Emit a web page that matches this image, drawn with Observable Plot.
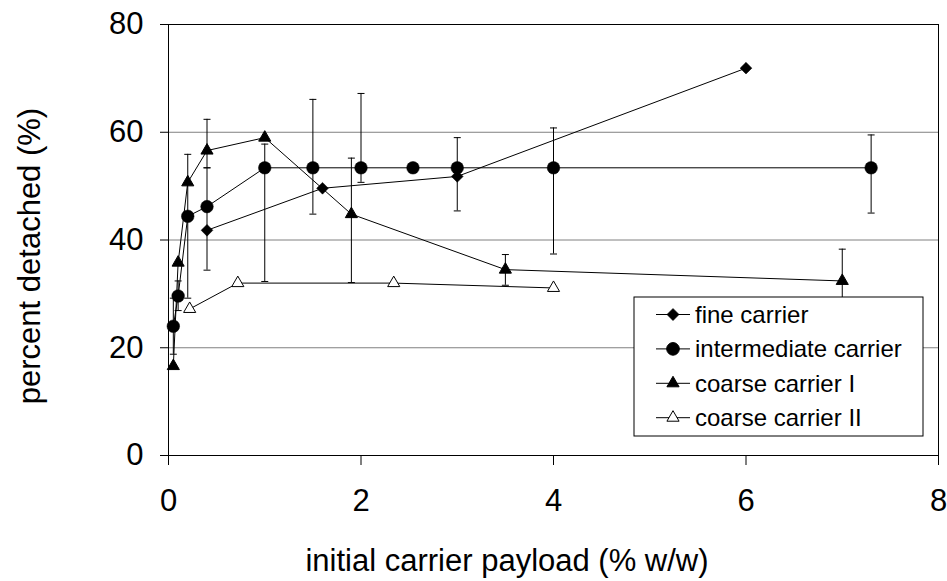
<!DOCTYPE html>
<html>
<head>
<meta charset="utf-8">
<script src="https://cdn.jsdelivr.net/npm/d3@7"></script>
<script src="https://cdn.jsdelivr.net/npm/@observablehq/plot@0.6"></script>
<style>
  html, body { margin: 0; padding: 0; background: #fff; }
  #chart svg { display: block; }
</style>
</head>
<body>
<div id="chart"></div>
<script>
// ---- data ----
const seriesNames = ["fine carrier", "intermediate carrier", "coarse carrier I", "coarse carrier II"];

const fineX = [0.4, 1.6, 3.0, 6.0];
const fineY = [41.8, 49.6, 51.8, 71.9];

const interX = [0.05, 0.1, 0.2, 0.4, 1.0, 1.5, 2.0, 2.54, 3.0, 4.0, 7.3];
const interY = [24.0, 29.6, 44.4, 46.2, 53.4, 53.4, 53.4, 53.4, 53.4, 53.4, 53.4];

const coarse1X = [0.05, 0.1, 0.2, 0.4, 1.0, 1.9, 3.5, 7.0];
const coarse1Y = [16.6, 35.8, 50.7, 56.6, 59.0, 44.8, 34.5, 32.4];

const coarse2X = [0.22, 0.72, 2.34, 4.0];
const coarse2Y = [27.2, 32.0, 32.0, 31.1];

// error bars (x, low, high)
const errX    = [0.05, 0.1, 0.2, 0.4, 0.4, 1.0, 1.5, 1.9, 2.0, 3.0, 3.5, 4.0, 7.0, 7.3];
const errLow  = [18.8, 26.9, 29.2, 34.4, 53.4, 32.3, 44.8, 32.1, 50.7, 45.4, 31.6, 37.4, 26.5, 45.0];
const errHigh = [29.2, 32.4, 55.9, 53.4, 62.4, 57.8, 66.1, 55.2, 67.2, 59.0, 37.3, 60.8, 38.3, 59.5];

const xTicks = [0, 2, 4, 6, 8];
const yTicks = [0, 20, 40, 60, 80];
const gridTicks = [20, 40, 60];

const xLabel = "initial carrier payload (% w/w)";
const yLabel = "percent detached (%)";

// ---- tables built from the arrays ----
const rows = (xs, ys, s) => xs.map((x, i) => ({x, y: ys[i], s}));
const fine = rows(fineX, fineY, seriesNames[0]);
const inter = rows(interX, interY, seriesNames[1]);
const coarse1 = rows(coarse1X, coarse1Y, seriesNames[2]);
const coarse2 = rows(coarse2X, coarse2Y, seriesNames[3]);
const errs = errX.map((x, i) => ({x, lo: errLow[i], hi: errHigh[i]}));
const caps = errs.flatMap(d => [{x: d.x, y: d.lo}, {x: d.x, y: d.hi}]);

const capSymbol = {
  draw(context) { context.moveTo(-3.5, 0); context.lineTo(3.5, 0); }
};

const FONT = "'Liberation Sans', Arial, Helvetica, sans-serif";

// legend drawn inside the plot frame
const legendSymbols = [d3.symbolDiamond2, d3.symbolCircle, d3.symbolTriangle, d3.symbolTriangle];
const legendSizes = [88, 125, 64, 64];
const legendFills = ["black", "black", "black", "white"];

function legendMark(index, scales, values, dimensions) {
  const {width, height, marginRight, marginBottom} = dimensions;
  const boxW = 289, boxH = 139;
  const x0 = width - marginRight - 15 - boxW;
  const y0 = height - marginBottom - 19 - boxH;
  const g = d3.create("svg:g");
  g.append("rect")
    .attr("x", x0).attr("y", y0).attr("width", boxW).attr("height", boxH)
    .attr("fill", "white").attr("stroke", "black").attr("stroke-width", 1);
  seriesNames.forEach((name, i) => {
    const cy = y0 + 17.5 + i * 34.4;
    g.append("line")
      .attr("x1", x0 + 22).attr("x2", x0 + 56).attr("y1", cy).attr("y2", cy)
      .attr("stroke", "black").attr("stroke-width", 1);
    g.append("path")
      .attr("d", d3.symbol(legendSymbols[i], legendSizes[i])())
      .attr("transform", `translate(${x0 + 39},${cy})`)
      .attr("fill", legendFills[i]).attr("stroke", "black").attr("stroke-width", 1);
    g.append("text")
      .attr("x", x0 + 61).attr("y", cy).attr("dy", "0.35em")
      .attr("text-anchor", "start")
      .attr("font-size", 24).attr("font-family", FONT).attr("fill", "black")
      .text(name);
  });
  return g.node();
}

// axis titles, placed relative to the plot frame
function titlesMark(index, scales, values, dimensions) {
  const {width, height, marginLeft, marginRight, marginTop, marginBottom} = dimensions;
  const g = d3.create("svg:g")
    .attr("font-family", FONT).attr("font-size", 31).attr("fill", "black")
    .attr("text-anchor", "middle");
  const cx = (marginLeft + width - marginRight) / 2 - 46;
  const by = height - marginBottom;
  g.append("text").attr("x", cx).attr("y", by + 105).attr("dy", "0.35em").text(xLabel);
  const cy = (marginTop + height - marginBottom) / 2 + 16.5;
  const lx = marginLeft - 138.5;
  g.append("text")
    .attr("transform", `translate(${lx},${cy}) rotate(-90)`)
    .attr("dy", "0.35em").text(yLabel);
  return g.node();
}

const chart = Plot.plot({
  width: 947,
  height: 581,
  marginLeft: 168,
  marginRight: 9,
  marginTop: 24,
  marginBottom: 126,
  style: {fontFamily: FONT, fontSize: "31px", background: "white", color: "black", overflow: "visible"},
  x: {domain: [0, 8], axis: null},
  y: {domain: [0, 80], axis: null},
  marks: [
    Plot.gridY(gridTicks, {stroke: "#808080", strokeOpacity: 1, strokeWidth: 1}),
    Plot.frame({stroke: "black", strokeWidth: 1}),
    Plot.axisX({ticks: xTicks, tickSize: 10, tickPadding: 23, fontSize: 31, label: null, tickFormat: d => String(d)}),
    Plot.axisY({ticks: yTicks, tickSize: 8, tickPadding: 17, fontSize: 31, label: null, tickFormat: d => String(d)}),
    // error bars
    Plot.ruleX(errs, {x: "x", y1: "lo", y2: "hi", stroke: "black", strokeWidth: 1}),
    Plot.dot(caps, {x: "x", y: "y", symbol: capSymbol, r: 4, stroke: "black", fill: "none", strokeWidth: 1}),
    // series lines
    Plot.line(fine, {x: "x", y: "y", stroke: "black", strokeWidth: 1}),
    Plot.line(inter, {x: "x", y: "y", stroke: "black", strokeWidth: 1}),
    Plot.line(coarse1, {x: "x", y: "y", stroke: "black", strokeWidth: 1}),
    Plot.line(coarse2, {x: "x", y: "y", stroke: "black", strokeWidth: 1}),
    // markers
    Plot.dot(coarse2, {x: "x", y: "y", symbol: "triangle", r: 4.5, fill: "white", stroke: "black", strokeWidth: 1}),
    Plot.dot(inter, {x: "x", y: "y", symbol: "circle", r: 6.3, fill: "black", stroke: "black", strokeWidth: 0.5}),
    Plot.dot(coarse1, {x: "x", y: "y", symbol: "triangle", r: 4.5, fill: "black", stroke: "black", strokeWidth: 1}),
    Plot.dot(fine, {x: "x", y: "y", symbol: "diamond2", r: 5.3, fill: "black", stroke: "black", strokeWidth: 0.5}),
    titlesMark,
    legendMark
  ]
});

document.getElementById("chart").appendChild(chart);
</script>
</body>
</html>
